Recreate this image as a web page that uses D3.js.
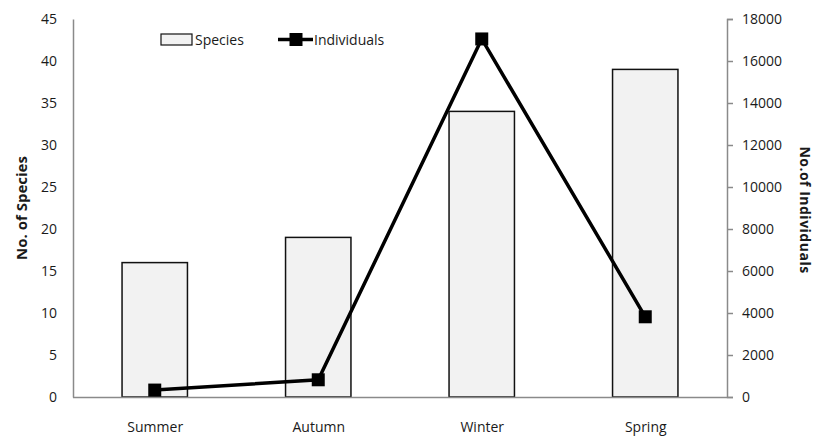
<!DOCTYPE html>
<html><head><meta charset="utf-8">
<script src="https://cdn.jsdelivr.net/npm/d3@7"></script>
<style>
body{margin:0;background:#fff;}
text{font-family:"Open Sans",sans-serif;fill:#1a1a1a;}
</style></head>
<body><svg id="c" width="814" height="439"></svg>
<script>
const seasons = ["Summer","Autumn","Winter","Spring"];
const species = [16,19,34,39];
const individuals = [330,820,17050,3820];
const leftTicks = [0,5,10,15,20,25,30,35,40,45];
const rightTicks = [0,2000,4000,6000,8000,10000,12000,14000,16000,18000];

const svg = d3.select("#c");
const L = 73, R = 727, T = 19, B = 397;
const x = d3.scaleBand().domain(seasons).range([L,R]).paddingInner(0.6).paddingOuter(0.3);
const xc = d3.scalePoint().domain(seasons).range([L,R]).padding(0.5);
const yL = d3.scaleLinear().domain([0,45]).range([B,T]);
const yR = d3.scaleLinear().domain([0,18000]).range([B,T]);
const axisColor = "#8a8a8a";

// bars
svg.append("g").selectAll("rect").data(seasons).join("rect")
  .attr("x", d=>x(d)).attr("width", x.bandwidth())
  .attr("y", (d,i)=>yL(species[i])).attr("height",(d,i)=>B-yL(species[i]))
  .attr("fill","#f2f2f2").attr("stroke","#111").attr("stroke-width",1.5);

// axes
const gl = svg.append("g").attr("transform",`translate(${L},0)`)
  .call(d3.axisLeft(yL).tickValues(leftTicks).tickSize(0).tickPadding(16));
const gr = svg.append("g").attr("transform",`translate(${R},0)`)
  .call(d3.axisRight(yR).tickValues(rightTicks).tickFormat(d3.format("d")).tickSize(6).tickPadding(9));
const gb = svg.append("g").attr("transform",`translate(0,${B})`)
  .call(d3.axisBottom(xc).tickSize(0).tickPadding(25));
gb.select(".domain").attr("d",`M${L},0.5H${R}`);
[gl,gr,gb].forEach(g=>{
  g.select(".domain").attr("stroke",axisColor).attr("stroke-width",1.5);
  g.selectAll(".tick line").attr("stroke",axisColor).attr("stroke-width",1.5);
  g.selectAll(".tick text").attr("font-family","'Open Sans',sans-serif").attr("font-size",14).attr("fill","#1a1a1a");
});

// line
const line = d3.line().x((d,i)=>xc(seasons[i])).y(d=>yR(d));
svg.append("path").datum(individuals).attr("d",line)
  .attr("fill","none").attr("stroke","#000").attr("stroke-width",3.5);
svg.append("g").selectAll("rect").data(individuals).join("rect")
  .attr("x",(d,i)=>xc(seasons[i])-6.5).attr("y",d=>yR(d)-6.5)
  .attr("width",13).attr("height",13).attr("fill","#000");

// axis titles
svg.append("text").attr("transform","translate(22,208) rotate(-90)")
  .attr("text-anchor","middle").attr("dy","0.35em").attr("font-weight","bold").attr("font-size",15)
  .text("No. of Species");
svg.append("text").attr("transform","translate(805,210) rotate(90)")
  .attr("text-anchor","middle").attr("dy","0.35em").attr("font-weight","bold").attr("font-size",14)
  .attr("letter-spacing","0.5")
  .text("No.of Individuals");

// legend
const lg = svg.append("g");
lg.append("rect").attr("x",161).attr("y",34).attr("width",31).attr("height",11)
  .attr("fill","#f2f2f2").attr("stroke","#111").attr("stroke-width",1.2);
lg.append("text").attr("x",195).attr("y",44.5).attr("font-size",14).text("Species");
lg.append("line").attr("x1",278).attr("x2",313).attr("y1",39.5).attr("y2",39.5)
  .attr("stroke","#000").attr("stroke-width",3.5);
lg.append("rect").attr("x",289.5).attr("y",33).attr("width",13).attr("height",13).attr("fill","#000");
lg.append("text").attr("x",314).attr("y",44.5).attr("font-size",14).text("Individuals");
</script></body></html>
